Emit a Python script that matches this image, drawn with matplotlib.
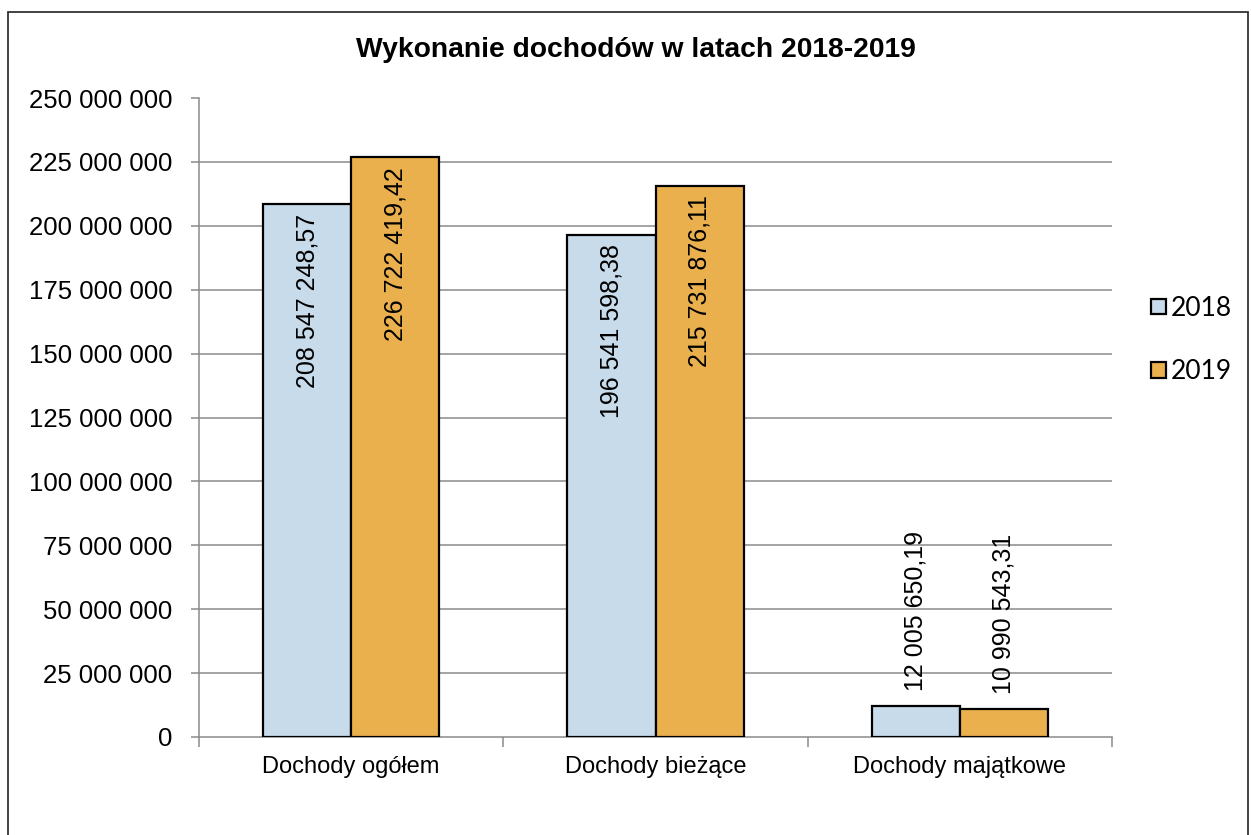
import matplotlib.pyplot as plt
import matplotlib.ticker as mticker
from matplotlib import font_manager
from matplotlib.patches import Rectangle
import numpy as np

# data
categories = ["Dochody ogółem", "Dochody bieżące", "Dochody majątkowe"]
years = ["2018", "2019"]
values_2018 = [208547248.57, 196541598.38, 12005650.19]
values_2019 = [226722419.42, 215731876.11, 10990543.31]
y_ticks = list(range(0, 250000001, 25000000))

COLORS = {"2018": "#C8DBEA", "2019": "#EBB04E"}


def fmt_int(v, pos=None):
    return f"{int(round(v)):,}".replace(",", " ")


def fmt_dec(v):
    s = f"{v:,.2f}"
    whole, dec = s.split(".")
    return whole.replace(",", " ") + "," + dec


plt.rcParams["font.family"] = ["Liberation Sans", "DejaVu Sans"]

# category labels look like a narrow Arial in the original
installed = {f.name for f in font_manager.fontManager.ttflist}
if "Liberation Sans Narrow" in installed:
    cat_font, cat_size = "Liberation Sans Narrow", 19.5
else:
    cat_font, cat_size = "Liberation Sans", 17

fig = plt.figure(figsize=(12.51, 8.35), dpi=100)
fig.patch.set_facecolor("white")
# outer chart frame (bottom edge falls outside the picture)
fig.patches.append(Rectangle((8 / 1251, -0.02), 1240 / 1251, (823 / 835) + 0.02,
                             transform=fig.transFigure, fill=False,
                             edgecolor="#333333", linewidth=1.3))

ax = fig.add_axes([199 / 1251, 98 / 835, 913 / 1251, 639 / 835])

x = np.arange(len(categories))
width = 0.29
series = {"2018": values_2018, "2019": values_2019}
for i, yr in enumerate(years):
    vals = series[yr]
    xs = x + (i - 0.5) * width
    ax.bar(xs, vals, width, color=COLORS[yr], edgecolor="black",
           linewidth=1.6, label=yr, zorder=3)
    for xi, v in zip(xs, vals):
        if v > 50000000:
            ax.annotate(fmt_dec(v), (xi, v), xytext=(0, -7),
                        textcoords="offset points", rotation=90,
                        ha="center", va="top", fontsize=18, zorder=4)
        else:
            ax.annotate(fmt_dec(v), (xi, v), xytext=(0, 11),
                        textcoords="offset points", rotation=90,
                        ha="center", va="bottom", fontsize=18, zorder=4)

ax.set_xlim(-0.5, len(categories) - 0.5)
ax.set_ylim(0, 250000000)
ax.set_yticks(y_ticks)
ax.yaxis.set_major_formatter(mticker.FuncFormatter(fmt_int))
for t in y_ticks[1:-1]:
    ax.axhline(t, color="#8a8a8a", linewidth=1.1, zorder=1)

ax.set_xticks(x)
ax.set_xticklabels(categories, family=cat_font, fontsize=cat_size)
ax.set_xticks(np.arange(-0.5, len(categories)), minor=True)
ax.tick_params(axis="x", which="major", length=0, pad=14)
ax.tick_params(axis="x", which="minor", length=7, color="#8a8a8a", width=1.1)
ax.tick_params(axis="y", length=6, color="#8a8a8a", width=1.1, pad=13,
               labelsize=18.5)

for side in ["top", "right"]:
    ax.spines[side].set_visible(False)
for side in ["left", "bottom"]:
    ax.spines[side].set_color("#8a8a8a")
    ax.spines[side].set_linewidth(1.1)

fig.text(636 / 1251, (835 - 50) / 835, "Wykonanie dochodów w latach 2018-2019",
         fontsize=20.3, fontweight="bold", ha="center", va="center")

ax.legend(loc="center left", bbox_to_anchor=(1151 / 1251, (835 - 340) / 835),
          bbox_transform=fig.transFigure, frameon=False,
          prop={"family": "Lato", "size": 19}, handlelength=0.55,
          handleheight=0.55, handletextpad=0.2, labelspacing=1.45,
          borderpad=0, borderaxespad=0)

fig.savefig("out.png", dpi=100, facecolor="white")
